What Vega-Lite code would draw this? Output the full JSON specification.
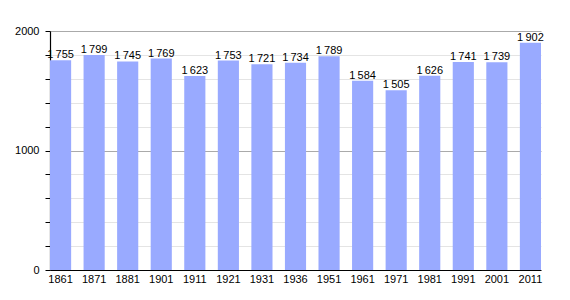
{
  "$schema": "https://vega.github.io/schema/vega-lite/v6.json",
  "width": 491,
  "height": 239,
  "autosize": {"type": "none"},
  "padding": {"left": 50, "top": 31, "right": 29, "bottom": 30},
  "background": "white",
  "config": {
    "view": {"stroke": null},
    "font": "Liberation Sans",
    "locale": {"number": {"decimal": ",", "thousands": "\u202f", "grouping": [3], "currency": ["", " €"]}}
  },
  "data": {"values": [
    {"year": "1861", "pop": 1755},
    {"year": "1871", "pop": 1799},
    {"year": "1881", "pop": 1745},
    {"year": "1901", "pop": 1769},
    {"year": "1911", "pop": 1623},
    {"year": "1921", "pop": 1753},
    {"year": "1931", "pop": 1721},
    {"year": "1936", "pop": 1734},
    {"year": "1951", "pop": 1789},
    {"year": "1961", "pop": 1584},
    {"year": "1971", "pop": 1505},
    {"year": "1981", "pop": 1626},
    {"year": "1991", "pop": 1741},
    {"year": "2001", "pop": 1739},
    {"year": "2011", "pop": 1902}
  ]},
  "encoding": {
    "x": {"field": "year", "type": "ordinal", "sort": null,
      "scale": {"paddingInner": 0.37, "paddingOuter": 0},
      "axis": {"title": null, "labelAngle": 0, "domainColor": "black", "domainWidth": 1.2, "ticks": false, "labelFontSize": 11, "labelColor": "black", "labelPadding": 3}},
    "y": {"field": "pop", "type": "quantitative", "scale": {"domain": [0, 2000], "nice": false},
      "axis": {"title": null, "values": [0, 200, 400, 600, 800, 1000, 1200, 1400, 1600, 1800, 2000],
        "labelExpr": "datum.value % 1000 === 0 ? datum.label : ''", "format": "d", "labelOverlap": false, "labelBound": false, "labelFlush": false,
        "grid": true, "gridColor": {"condition": {"test": "datum.value % 1000 === 0 && datum.value > 0", "value": "#aaaaaa"}, "value": "#e4e4e4"},
        "domainColor": "black", "domainWidth": 1.2, "tickColor": "black", "tickSize": 5,
        "labelFontSize": 11, "labelColor": "black", "labelPadding": 6}}
  },
  "layer": [
    {
      "mark": {"type": "bar", "color": "#99aaff"}
    },
    {
      "mark": {"type": "text", "baseline": "bottom", "dy": 0, "fontSize": 11, "color": "black"},
      "encoding": {
        "text": {"field": "pop", "type": "quantitative", "format": ",d"}
      }
    }
  ]
}
